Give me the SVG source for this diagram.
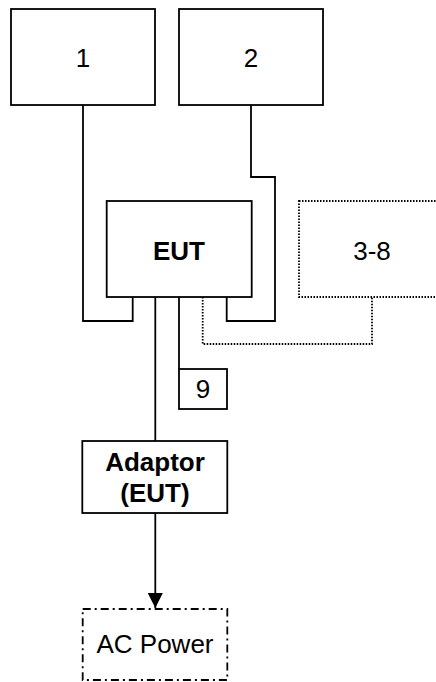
<svg xmlns="http://www.w3.org/2000/svg" width="436" height="682" viewBox="0 0 436 682">
<style>
.box{fill:#fff;stroke:#000;stroke-width:1.8}
.dot{fill:none;stroke:#000;stroke-width:1.8;stroke-dasharray:1.5 1.5}
.dd{fill:none;stroke:#000;stroke-width:1.8;stroke-dasharray:8 4 2 4}
.ln{fill:none;stroke:#000;stroke-width:1.8}
.t{font-family:"Liberation Sans",Arial,sans-serif;font-size:26px;text-anchor:middle;fill:#000}
.b{font-weight:bold}
</style>
<defs>
<marker id="arr" viewBox="0 0 15 15" markerWidth="15" markerHeight="15" refX="15" refY="7.5" orient="auto" markerUnits="userSpaceOnUse">
<path d="M0,0 L15,7.5 L0,15 Z" fill="#000"/>
</marker>
</defs>
<g id="connectors">
<polyline class="ln" points="83,105 83,321 132.7,321 132.7,297"/>
<polyline class="ln" points="251,105 251,177 275,177 275,321 226.7,321 226.7,297"/>
<line class="ln" x1="155.3" y1="297" x2="155.3" y2="441"/>
<line class="ln" x1="179" y1="297" x2="179" y2="369"/>
<polyline class="dot" points="202.7,297 202.7,344 372,344 372,297"/>
<line class="ln" x1="155.3" y1="513" x2="155.3" y2="608" marker-end="url(#arr)"/>
</g>
<g id="n1"><rect class="box" x="11" y="9" width="144" height="96"/><text class="t" x="83" y="67">1</text></g>
<g id="n2"><rect class="box" x="179" y="9" width="144" height="96"/><text class="t" x="251" y="67">2</text></g>
<g id="eut"><rect class="box" x="106.7" y="201" width="145" height="96"/><text class="t b" x="179" y="260">EUT</text></g>
<g id="n38"><rect class="dot" x="299" y="201" width="146" height="96"/><text class="t" x="372" y="260">3-8</text></g>
<g id="n9"><rect class="box" x="179" y="369" width="48" height="40"/><text class="t" x="203" y="398">9</text></g>
<g id="adaptor"><rect class="box" x="82.3" y="441" width="145" height="72"/><text class="t b" x="155" y="470.5">Adaptor</text><text class="t b" x="155" y="501.5">(EUT)</text></g>
<g id="ac"><rect class="dd" x="82.7" y="609" width="144.6" height="71"/><text class="t" x="155" y="653">AC Power</text></g>
</svg>
